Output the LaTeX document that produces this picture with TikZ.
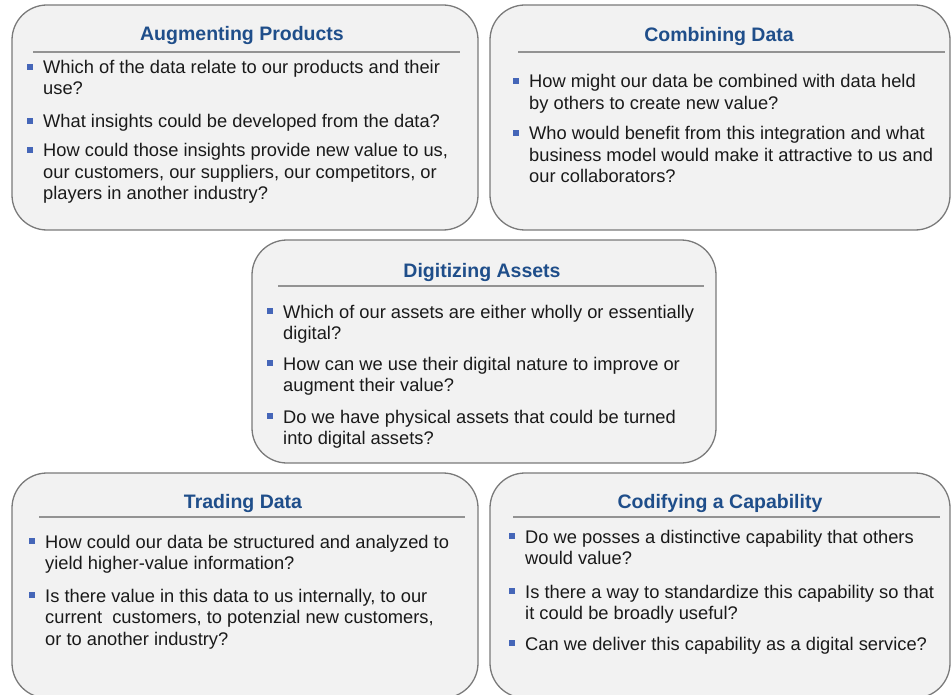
\documentclass[tikz,border=0pt]{standalone}
\usepackage{fontspec}
\setmainfont{Liberation Sans}
\definecolor{titleblue}{HTML}{1F4E8A}
\definecolor{bulletblue}{HTML}{4566B8}
\definecolor{boxfill}{HTML}{F2F2F2}
\definecolor{boxline}{HTML}{7A7A7A}
\definecolor{qcolor}{HTML}{1A1A1A}
\tikzset{
 panel/.style={draw=boxline, line width=1.3pt, fill=boxfill, rounded corners=35pt, inner sep=0pt},
 ptitle/.style={anchor=base, inner sep=0pt, text=titleblue, font=\fontsize{19.5}{23}\selectfont\bfseries},
 qtext/.style={anchor=base west, inner sep=0pt, text=qcolor, font=\fontsize{18.3}{21.5}\selectfont},
 bul/.style={fill=bulletblue, minimum size=6pt, inner sep=0pt},
 titlerule/.style={draw=gray!85, line width=1.2pt}
}
\newcommand\qq[4]{%
 \node[qtext] (#1) at (#2,#3) {\vtop{#4}};
 \node[bul] (#1b) at ([xshift=-13.5pt,yshift=6.6pt]#1.base west) {};}
\begin{document}
\begin{tikzpicture}[x=1pt,y=-1pt]
\path[use as bounding box, clip] (0,0) rectangle (952,695);
% panels
\node[panel, minimum width=466pt, minimum height=225pt] (p1) at (245,117.5) {};
\node[panel, minimum width=460pt, minimum height=225pt] (p2) at (720,117.5) {};
\node[panel, minimum width=464pt, minimum height=223pt] (p3) at (484,351.5) {};
\node[panel, minimum width=466pt, minimum height=225pt] (p4) at (245,585.5) {};
\node[panel, minimum width=460pt, minimum height=225pt] (p5) at (720,585.5) {};
% titles
\node[ptitle] (t1) at (242,41) {Augmenting Products};
\node[ptitle] (t2) at (719,42) {Combining Data};
\node[ptitle] (t3) at (482,277) {Digitizing Assets};
\node[ptitle] (t4) at (243,508) {Trading Data};
\node[ptitle] (t5) at (720,508) {Codifying a Capability};
% rules
\coordinate (r1a) at (33,52);  \coordinate (r1b) at (460,52);
\coordinate (r2a) at (518,52); \coordinate (r2b) at (945,52);
\coordinate (r3a) at (278,286); \coordinate (r3b) at (704,286);
\coordinate (r4a) at (39,517); \coordinate (r4b) at (465,517);
\coordinate (r5a) at (513,517); \coordinate (r5b) at (940,517);
\draw[titlerule] (r1a) -- (r1b);
\draw[titlerule] (r2a) -- (r2b);
\draw[titlerule] (r3a) -- (r3b);
\draw[titlerule] (r4a) -- (r4b);
\draw[titlerule] (r5a) -- (r5b);
% box 1
\qq{a1}{43}{73.3}{\hbox{Which of the data relate to our products and their}\hbox{use?}}
\qq{a2}{43}{128}{\hbox{What insights could be developed from the data?}}
\qq{a3}{43}{157}{\hbox{How could those insights provide new value to us,}\hbox{our customers, our suppliers, our competitors, or}\hbox{players in another industry?}}
% box 2
\qq{b1}{529}{88}{\hbox{How might our data be combined with data held}\hbox{by others to create new value?}}
\qq{b2}{529}{140}{\hbox{Who would benefit from this integration and what}\hbox{business model would make it attractive to us and}\hbox{our collaborators?}}
% box 3
\qq{c1}{283}{318}{\hbox{Which of our assets are either wholly or essentially}\hbox{digital?}}
\qq{c2}{283}{370}{\hbox{How can we use their digital nature to improve or}\hbox{augment their value?}}
\qq{c3}{283}{423}{\hbox{Do we have physical assets that could be turned}\hbox{into digital assets?}}
% box 4
\qq{d1}{45}{548}{\hbox{How could our data be structured and analyzed to}\hbox{yield higher-value information?}}
\qq{d2}{45}{602}{\hbox{Is there value in this data to us internally, to our}\hbox{current\ \ customers, to potenzial new customers,}\hbox{or to another industry?}}
% box 5
\qq{e1}{525}{543}{\hbox{Do we posses a distinctive capability that others}\hbox{would value?}}
\qq{e2}{525}{598}{\hbox{Is there a way to standardize this capability so that}\hbox{it could be broadly useful?}}
\qq{e3}{525}{650}{\hbox{Can we deliver this capability as a digital service?}}
\end{tikzpicture}
\end{document}
